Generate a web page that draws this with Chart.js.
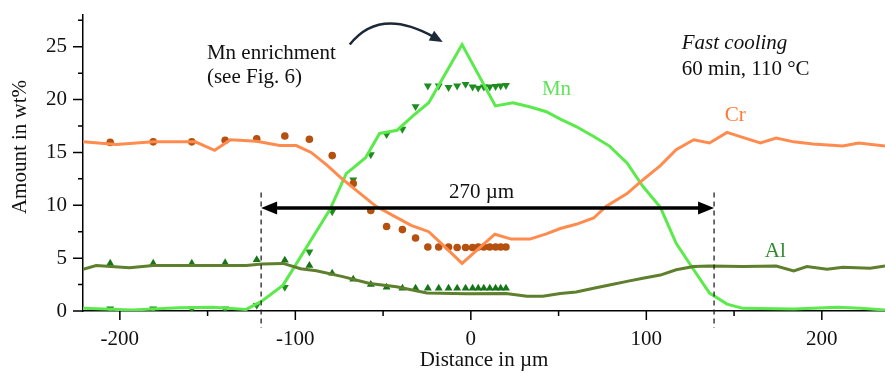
<!DOCTYPE html>
<html>
<head>
<meta charset="utf-8">
<script src="https://cdn.jsdelivr.net/npm/chart.js@4.4.0/dist/chart.umd.min.js"></script>
<style>
  html, body { margin: 0; padding: 0; background: #fff; }
</style>
</head>
<body>
<canvas id="profileChart" width="885" height="373"></canvas>
<script>
// Measured profile lines (distance in µm, amount in wt%)
const crLineX = [-221, -202, -181, -166, -157, -146, -137, -122, -109, -99.5, -91, -82, -74, -63, -54, -44, -34, -24, -16, -5, 13.7, 23, 33.7, 43, 51, 60, 70, 77, 89, 98, 108, 117, 127, 136, 146, 153.5, 165, 174, 184, 195, 212, 221, 236];
const crLineY = [16.0, 15.75, 16.0, 16.0, 16.0, 15.2, 16.2, 16.05, 15.65, 15.65, 15.0, 13.8, 12.6, 11.1, 9.9, 9.0, 8.1, 7.5, 6.25, 4.5, 7.26, 6.8, 6.8, 7.3, 7.8, 8.2, 8.8, 9.9, 11.1, 12.4, 13.75, 15.25, 16.2, 15.9, 16.9, 16.5, 15.9, 16.35, 16.0, 15.8, 15.6, 15.9, 15.6];

const mnLineX = [-221, -193, -166, -147, -128, -119, -107, -80.3, -71, -60, -52, -42, -33, -24, -5, 14, 24, 34, 43, 51, 60, 70, 79, 89, 98, 108, 117, 127, 136, 146, 155, 184, 209, 222, 236];
const mnLineY = [0.25, 0.1, 0.3, 0.35, 0.15, 0.95, 2.45, 9.6, 13.0, 14.5, 16.8, 17.1, 18.45, 19.7, 25.2, 19.4, 19.7, 19.3, 18.85, 18.15, 17.45, 16.5, 15.6, 14.0, 11.8, 9.8, 6.4, 3.9, 1.7, 0.65, 0.25, 0.2, 0.35, 0.25, 0.1];

const alLineX = [-221, -213.5, -194.5, -181, -128, -119, -107, -97, -88, -73, -57.6, -42.4, -25, -2.5, 20, 32, 41, 51, 60, 70, 79, 89, 98, 108, 117, 127, 136, 155, 174, 184, 191.5, 203, 212, 227.6, 236];
const alLineY = [3.95, 4.3, 4.1, 4.3, 4.3, 4.45, 4.5, 4.0, 3.8, 3.25, 2.6, 2.3, 1.7, 1.62, 1.65, 1.4, 1.4, 1.65, 1.8, 2.15, 2.46, 2.8, 3.1, 3.4, 3.9, 4.2, 4.26, 4.2, 4.26, 3.8, 4.2, 3.95, 4.14, 4.04, 4.26];

// Point analyses (shared positions)
const spotX = [-205.5, -181, -159, -140, -122, -106, -92, -79, -67, -57, -48, -39, -31.5, -24.5, -18.3, -12.7, -7.8, -3, 1, 4.2, 7.4, 10.8, 14.1, 17, 20];
const crSpotY = [15.95, 16.0, 16.0, 16.15, 16.3, 16.55, 16.25, 14.7, 12.05, 9.5, 8.0, 7.7, 6.9, 6.05, 6.05, 6.05, 6.0, 6.0, 6.0, 6.05, 6.05, 6.05, 6.05, 6.05, 6.05];
const mnSpotY = [0.2, 0.2, 0.2, 0.2, 0.55, 2.25, 5.6, 9.4, 12.4, 14.8, 16.7, 17.2, 19.35, 21.3, 21.3, 21.15, 21.3, 21.45, 21.2, 21.1, 21.2, 21.2, 21.25, 21.3, 21.35];
const alSpotY = [4.5, 4.5, 4.5, 4.55, 4.85, 4.8, 4.3, 3.57, 3.0, 2.5, 2.24, 2.15, 2.15, 2.15, 2.15, 2.15, 2.15, 2.15, 2.15, 2.15, 2.15, 2.15, 2.15, 2.15, 2.15];

// Axis ticks
const xMajorTicks = [-200, -100, 0, 100, 200];
const xMinorTicks = [-150, -50, 50, 150];
const yMajorTicks = [0, 5, 10, 15, 20, 25];
const yMinorTicks = [2.5, 7.5, 12.5, 17.5, 22.5, 27.5];

// Diffusion zone markers
const zoneStart = -119.5;
const zoneEnd = 138.6;

const serif = '"Liberation Serif", "Times New Roman", serif';
const colors = {
    crLine: '#FF8C4E',
    crSpot: '#B5500F',
    mnLine: '#5BEA4B',
    mnSpot: '#1E8C1E',
    alLine: '#5E7F2C',
    alSpot: '#177517',
    crText: '#FF7A35',
    mnText: '#62E25A',
    alText: '#2F8A2F'
};

const pairs = (xs, ys) => xs.map((x, i) => ({ x: x, y: ys[i] }));

const lineSet = (label, xs, ys, color) => ({
    label: label,
    data: pairs(xs, ys),
    showLine: true,
    borderColor: color,
    borderWidth: 3,
    pointRadius: 0,
    tension: 0
});

const spotSet = (label, ys, color, style, rotation) => ({
    label: label,
    data: pairs(spotX, ys),
    showLine: false,
    pointStyle: style,
    rotation: rotation,
    pointRadius: style === 'circle' ? 3.8 : 4.6,
    backgroundColor: color,
    borderColor: color,
    borderWidth: 0
});

function drawHead(ctx, tipX, tipY, angle, len, half) {
    ctx.save();
    ctx.translate(tipX, tipY);
    ctx.rotate(angle);
    ctx.beginPath();
    ctx.moveTo(0, 0);
    ctx.lineTo(-len, -half);
    ctx.lineTo(-len, half);
    ctx.closePath();
    ctx.fill();
    ctx.restore();
}

const annotations = {
    id: 'annotations',
    afterDraw(chart) {
        const { ctx, scales: { x, y } } = chart;
        const px = v => x.getPixelForValue(v);
        const py = v => y.getPixelForValue(v);
        ctx.save();

        // tick marks
        ctx.strokeStyle = '#000';
        ctx.lineWidth = 1.5;
        ctx.beginPath();
        yMajorTicks.forEach(v => { ctx.moveTo(x.left, py(v)); ctx.lineTo(x.left - 10, py(v)); });
        yMinorTicks.forEach(v => { ctx.moveTo(x.left, py(v)); ctx.lineTo(x.left - 5, py(v)); });
        xMajorTicks.forEach(v => { ctx.moveTo(px(v), y.bottom); ctx.lineTo(px(v), y.bottom + 9); });
        xMinorTicks.forEach(v => { ctx.moveTo(px(v), y.bottom); ctx.lineTo(px(v), y.bottom + 5); });
        ctx.stroke();

        // dashed zone limits
        ctx.strokeStyle = '#222';
        ctx.lineWidth = 1.3;
        ctx.setLineDash([5, 4]);
        ctx.beginPath();
        [zoneStart, zoneEnd].forEach(v => { ctx.moveTo(px(v), py(11.2)); ctx.lineTo(px(v), py(-1.6)); });
        ctx.stroke();
        ctx.setLineDash([]);

        // double arrow
        const ay = py(9.75);
        ctx.strokeStyle = '#000';
        ctx.fillStyle = '#000';
        ctx.lineWidth = 3.5;
        ctx.beginPath();
        ctx.moveTo(px(zoneStart) + 12, ay);
        ctx.lineTo(px(zoneEnd) - 12, ay);
        ctx.stroke();
        drawHead(ctx, px(zoneStart), ay, Math.PI, 16, 6.5);
        drawHead(ctx, px(zoneEnd), ay, 0, 16, 6.5);

        // curved arrow to the Mn peak
        const p0 = [px(-69), py(25.2)];
        const c = [px(-52), py(28.8)];
        const p2 = [px(-16), py(25.45)];
        const ang = Math.atan2(p2[1] - c[1], p2[0] - c[0]);
        ctx.strokeStyle = '#1A2838';
        ctx.fillStyle = '#1A2838';
        ctx.lineWidth = 2.5;
        ctx.beginPath();
        ctx.moveTo(p0[0], p0[1]);
        ctx.quadraticCurveTo(c[0], c[1], p2[0] - 10 * Math.cos(ang), p2[1] - 10 * Math.sin(ang));
        ctx.stroke();
        drawHead(ctx, p2[0], p2[1], ang, 13, 5.5);

        // texts
        ctx.textBaseline = 'alphabetic';
        ctx.textAlign = 'left';
        ctx.fillStyle = '#111';
        ctx.font = '21px ' + serif;
        ctx.fillText('Mn enrichment', px(-150.4), py(23.84));
        ctx.fillText('(see Fig. 6)', px(-150.4), py(21.57));
        ctx.fillText('60 min, 110 °C', px(120.2), py(22.33));
        ctx.fillText('270 µm', px(-12.5), py(10.69));
        ctx.font = 'italic 21px ' + serif;
        ctx.fillText('Fast cooling', px(120.2), py(24.79));
        ctx.font = '21px ' + serif;
        ctx.fillStyle = colors.mnText;
        ctx.fillText('Mn', px(40.5), py(20.43));
        ctx.fillStyle = colors.crText;
        ctx.fillText('Cr', px(144.7), py(17.98));
        ctx.fillStyle = colors.alText;
        ctx.fillText('Al', px(167.5), py(5.11));

        // y axis title
        ctx.fillStyle = '#111';
        ctx.translate(20, 147);
        ctx.rotate(-Math.PI / 2);
        ctx.textAlign = 'center';
        ctx.textBaseline = 'middle';
        ctx.fillText('Amount in wt%', 0, 0);
        ctx.restore();
    }
};

const ctx = document.getElementById('profileChart').getContext('2d');
new Chart(ctx, {
    type: 'scatter',
    data: {
        datasets: [
            lineSet('Al', alLineX, alLineY, colors.alLine),
            lineSet('Cr', crLineX, crLineY, colors.crLine),
            lineSet('Mn', mnLineX, mnLineY, colors.mnLine),
            spotSet('Cr spots', crSpotY, colors.crSpot, 'circle', 0),
            spotSet('Mn spots', mnSpotY, colors.mnSpot, 'triangle', 180),
            spotSet('Al spots', alSpotY, colors.alSpot, 'triangle', 0)
        ]
    },
    options: {
        responsive: false,
        animation: false,
        events: [],
        layout: { autoPadding: false, padding: { top: 15, left: 0, right: 0, bottom: 0 } },
        plugins: {
            legend: { display: false },
            tooltip: { enabled: false }
        },
        scales: {
            x: {
                type: 'linear',
                min: -221,
                max: 236,
                afterFit: scale => {
                    scale.height = 62;
                    scale.paddingLeft = 0;
                    scale.paddingRight = 0;
                },
                grid: { display: false, drawTicks: false },
                border: { display: true, color: '#000', width: 1.5 },
                ticks: {
                    stepSize: 100,
                    includeBounds: false,
                    padding: 16,
                    color: '#111',
                    font: { family: serif, size: 21 },
                    maxRotation: 0,
                    autoSkip: false
                },
                title: {
                    display: true,
                    text: 'Distance in µm',
                    color: '#111',
                    font: { family: serif, size: 21 },
                    padding: { top: 0, bottom: 0 }
                }
            },
            y: {
                type: 'linear',
                min: 0,
                max: 28,
                afterFit: scale => {
                    scale.width = 83;
                    scale.paddingTop = 0;
                    scale.paddingBottom = 0;
                },
                grid: { display: false, drawTicks: false },
                border: { display: true, color: '#000', width: 1.5 },
                ticks: {
                    stepSize: 5,
                    includeBounds: false,
                    padding: 16,
                    color: '#111',
                    font: { family: serif, size: 21 },
                    autoSkip: false
                }
            }
        }
    },
    plugins: [annotations]
});
</script>
</body>
</html>
